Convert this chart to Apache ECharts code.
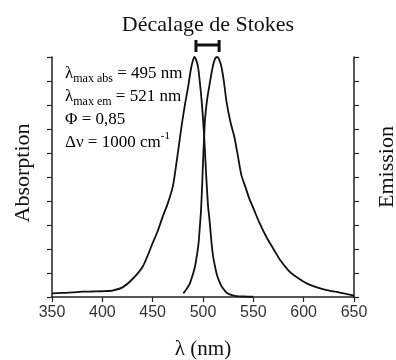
<!DOCTYPE html>
<html>
<head>
<meta charset="utf-8">
<script src="https://cdn.jsdelivr.net/npm/echarts@6/dist/echarts.min.js"></script>
<style>html,body{margin:0;padding:0;background:#fff}#c{width:396px;height:360px}</style>
</head>
<body>
<div id="c"></div>
<script>
var xTicks = [350, 400, 450, 500, 550, 600, 650];
var absNm = [350,360,370,380,390,400,410,420,430,440,450,455,460,465,470,473,476,479,482,485,488,490,491.5,493,495,497,499,501,503,505,506.5,508.5,510,512,514,517,520,523.5,528,533,540,550];
var absVal = [0.015,0.017,0.019,0.022,0.023,0.024,0.027,0.04,0.075,0.126,0.225,0.275,0.335,0.39,0.46,0.54,0.63,0.72,0.80,0.87,0.95,0.985,1.0,0.99,0.96,0.89,0.80,0.68,0.52,0.38,0.32,0.225,0.17,0.126,0.09,0.057,0.035,0.018,0.009,0.004,0.002,0.001];
var emNm = [480.5,484,487,490,492,494,495.5,497,498,499,500,501,502,504,506.5,509,511.5,514,516,518.5,521,523.5,527.5,531,535,538,542,546,550,556,563,570,577,585,590,603,620,636,650];
var emVal = [0.015,0.035,0.057,0.095,0.126,0.175,0.22,0.30,0.36,0.45,0.56,0.655,0.74,0.82,0.885,0.945,0.988,1.0,0.99,0.955,0.89,0.81,0.725,0.67,0.58,0.51,0.46,0.41,0.37,0.31,0.25,0.20,0.152,0.11,0.092,0.057,0.032,0.018,0.006];
var stokesNm = [493, 516];
var stokesY = [1.021, 1.05, 1.071];

function pairs(xs, ys) { return xs.map(function (x, i) { return [x, ys[i]]; }); }
var bracket = [
  [stokesNm[0], stokesY[0]], [stokesNm[0], stokesY[2]], [stokesNm[0], stokesY[1]],
  [stokesNm[1], stokesY[1]], [stokesNm[1], stokesY[2]], [stokesNm[1], stokesY[0]]
];

var serif = 'Liberation Serif';
var axisCol = '#222';
function yAx(pos, name, gap, pad) {
  return {
    type: 'value', position: pos, min: 0, max: 1, interval: 0.1,
    name: name, nameLocation: 'middle', nameGap: gap, nameRotate: 90,
    nameTextStyle: { fontFamily: serif, fontSize: 22, color: '#111', padding: pad },
    axisLine: { show: true, lineStyle: { color: axisCol, width: 1.5 } },
    axisTick: { show: true, inside: false, length: 5, lineStyle: { color: axisCol, width: 1.2 } },
    axisLabel: { show: false },
    splitLine: { show: false }
  };
}

var chart = echarts.init(document.getElementById('c'));
chart.setOption({
  animation: false,
  backgroundColor: '#fff',
  title: {
    text: 'Décalage de Stokes', left: 203, top: 9, textAlign: 'center',
    textStyle: { fontFamily: serif, fontSize: 22, fontWeight: 'normal', color: '#111' }
  },
  grid: { left: 52, right: 42, top: 57, bottom: 63, containLabel: false, outerBoundsMode: 'none' },
  xAxis: {
    type: 'value', min: 350, max: 650, interval: 50,
    name: 'λ (nm)', nameLocation: 'middle', nameGap: 42,
    nameTextStyle: { fontFamily: serif, fontSize: 21, color: '#111' },
    axisLine: { show: true, lineStyle: { color: axisCol, width: 1.5 } },
    axisTick: { show: true, inside: false, length: 5, lineStyle: { color: axisCol, width: 1.2 } },
    axisLabel: { fontFamily: 'Liberation Sans', fontSize: 16, color: '#333', margin: 8,
      formatter: function (v) { return xTicks.indexOf(v) >= 0 ? String(v) : ''; } },
    splitLine: { show: false }
  },
  yAxis: [yAx('left', 'Absorption', 18, [0, 0, 0, 8]), yAx('right', 'Emission', 22, [0, 0, 0, 20])],
  graphic: [{
    type: 'text', left: 65, top: 65,
    style: {
      text: '{m|λ}{s|max abs}{m| = 495 nm}\n{m|λ}{s|max em}{m| = 521 nm}\n{m|Φ = 0,85}\n{m|Δν = 1000 cm}{p|-1}',
      rich: {
        m: { fontFamily: serif, fontSize: 17, lineHeight: 23, color: '#111' },
        s: { fontFamily: serif, fontSize: 12, lineHeight: 13, verticalAlign: 'bottom', color: '#111' },
        p: { fontFamily: serif, fontSize: 11, lineHeight: 13, verticalAlign: 'top', color: '#111' }
      }
    }
  }],
  series: [
    { type: 'line', yAxisIndex: 0, data: pairs(absNm, absVal), smooth: 0.3, symbol: 'none',
      lineStyle: { color: '#111', width: 1.8 } },
    { type: 'line', yAxisIndex: 1, data: pairs(emNm, emVal), smooth: 0.3, symbol: 'none',
      lineStyle: { color: '#111', width: 1.8 } },
    { type: 'line', yAxisIndex: 0, data: bracket, symbol: 'none', clip: false,
      lineStyle: { color: '#111', width: 3 } }
  ]
});
</script>
</body>
</html>
